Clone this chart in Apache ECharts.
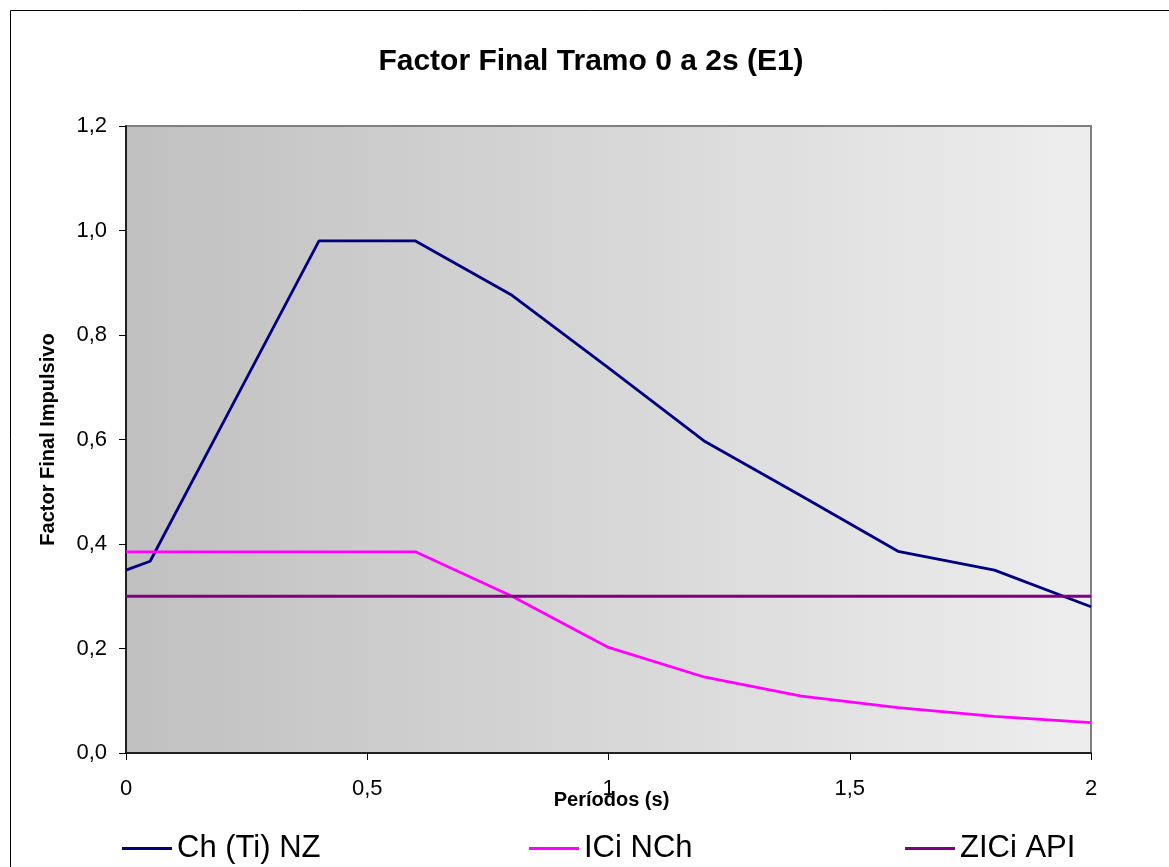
<!DOCTYPE html>
<html>
<head>
<meta charset="utf-8">
<script src="https://cdn.jsdelivr.net/npm/echarts@6/dist/echarts.min.js"></script>
<style>
  html, body { margin: 0; padding: 0; background: #ffffff; }
  #chart { width: 1169px; height: 867px; }
</style>
</head>
<body>
<div id="chart"></div>
<script>
// Periods (s) at which each curve is sampled
const periods = [0, 0.05, 0.2, 0.4, 0.6, 0.8, 1.0, 1.2, 1.4, 1.6, 1.8, 2.0];

// Final impulsive factor per code
const chTiNZ  = [0.35, 0.367, 0.63, 0.98, 0.98, 0.876, 0.737, 0.596, 0.492, 0.386, 0.35, 0.28];
const iciNCh  = [0.385, 0.385, 0.385, 0.385, 0.385, 0.30, 0.202, 0.145, 0.109, 0.087, 0.070, 0.058];
const ziciAPI = [0.30, 0.30, 0.30, 0.30, 0.30, 0.30, 0.30, 0.30, 0.30, 0.30, 0.30, 0.30];

const seriesNames = ['Ch (Ti) NZ', 'ICi NCh', 'ZICi API'];
const seriesColors = ['#000080', '#ff00ff', '#800080'];
const seriesValues = [chTiNZ, iciNCh, ziciAPI];

const titleText = 'Factor Final Tramo 0 a 2s (E1)';
const xAxisName = 'Períodos (s)';
const yAxisName = 'Factor Final Impulsivo';

const FONT = "'Liberation Sans', Arial, Helvetica, sans-serif";
const comma = (v, digits) => (digits == null ? String(v) : v.toFixed(digits)).replace('.', ',');

const chart = echarts.init(document.getElementById('chart'), null, { renderer: 'canvas' });

const legendLefts = [122, 529, 905];

const option = {
  animation: false,
  backgroundColor: '#ffffff',
  title: {
    text: titleText,
    left: 586,
    top: 42,
    textAlign: 'center',
    textStyle: { fontFamily: FONT, fontSize: 30, fontWeight: 'bold', color: '#000000' }
  },
  graphic: [{
    type: 'rect',
    shape: { x: 10.5, y: 10.5, width: 1200, height: 900 },
    style: { fill: 'none', stroke: '#000000', lineWidth: 1 },
    silent: true,
    z: -1
  }],
  legend: seriesNames.map((name, i) => ({
    data: [name],
    left: legendLefts[i],
    top: 833,
    padding: 0,
    icon: 'rect',
    itemWidth: 50,
    itemHeight: 3,
    textStyle: { fontFamily: FONT, fontSize: 31, color: '#000000' }
  })),
  grid: {
    left: 126,
    top: 126,
    right: 78,
    bottom: 114,
    show: true,
    borderColor: '#808080',
    borderWidth: 2,
    backgroundColor: new echarts.graphic.LinearGradient(0, 0, 1, 0, [
      { offset: 0, color: '#c0c0c0' },
      { offset: 1, color: '#eeeeee' }
    ])
  },
  xAxis: {
    type: 'value',
    min: 0,
    max: 2,
    interval: 0.5,
    name: xAxisName,
    nameLocation: 'middle',
    nameGap: 37,
    nameMoveOverlap: false,
    nameTextStyle: { fontFamily: FONT, fontSize: 20, fontWeight: 'bold', color: '#000000', padding: [0, 0, 0, 6] },
    axisLine: { show: true, onZero: false, lineStyle: { color: '#000000', width: 1.5 } },
    axisTick: { show: true, inside: false, length: 7, lineStyle: { color: '#000000', width: 1 } },
    axisLabel: {
      margin: 25,
      fontFamily: FONT,
      fontSize: 22,
      color: '#000000',
      formatter: v => comma(v)
    },
    splitLine: { show: false }
  },
  yAxis: {
    type: 'value',
    min: 0,
    max: 1.2,
    interval: 0.2,
    name: yAxisName,
    nameLocation: 'middle',
    nameGap: 68,
    nameMoveOverlap: false,
    nameTextStyle: { fontFamily: FONT, fontSize: 20, fontWeight: 'bold', color: '#000000' },
    axisLine: { show: true, onZero: false, lineStyle: { color: '#000000', width: 1.5 } },
    axisTick: { show: true, inside: false, length: 7, lineStyle: { color: '#000000', width: 1 } },
    axisLabel: {
      margin: 19,
      fontFamily: FONT,
      fontSize: 22,
      color: '#000000',
      formatter: v => comma(v, 1)
    },
    splitLine: { show: false }
  },
  series: seriesNames.map((name, i) => ({
    name: name,
    type: 'line',
    data: periods.map((p, k) => [p, seriesValues[i][k]]),
    showSymbol: false,
    symbol: 'none',
    color: seriesColors[i],
    lineStyle: { color: seriesColors[i], width: 2.8 },
    itemStyle: { color: seriesColors[i] },
    z: 2 + i
  }))
};

chart.setOption(option);
</script>
</body>
</html>
